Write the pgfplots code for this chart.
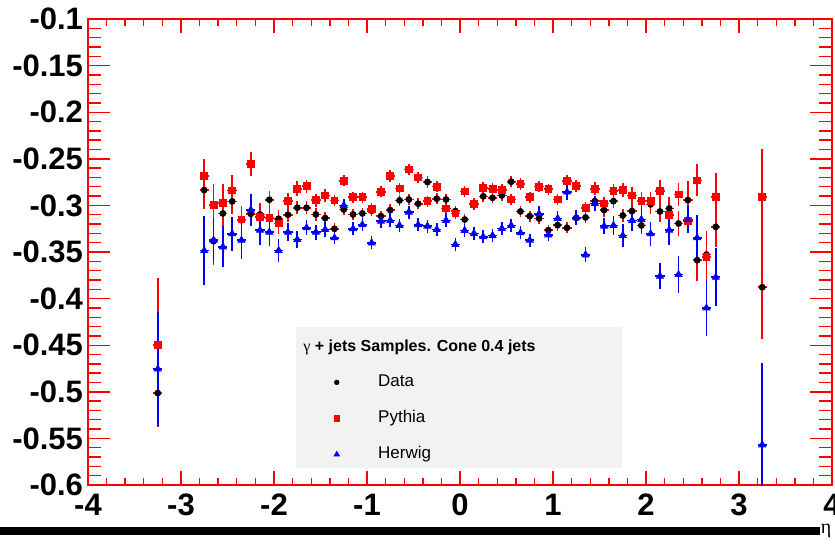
\documentclass[border=0pt]{standalone}
\usepackage{pgfplots}
\pgfplotsset{compat=1.18}
\usepackage{pgfplotstable}
\usepackage{fontspec}
\setmainfont{Liberation Sans}
\newfontfamily\symfont{Liberation Serif}
\definecolor{legbg}{HTML}{F2F2F2}

% eta, mean value, statistical error
\pgfplotstableread{
eta val err
-3.25 -0.5014 0.036
-2.75 -0.2835 0.020
-2.65 -0.3384 0.025
-2.55 -0.3086 0.020
-2.45 -0.2957 0.013
-2.35 -0.3158 0.014
-2.25 -0.3090 0.012
-2.15 -0.3097 0.012
-2.05 -0.2939 0.009
-1.95 -0.3143 0.009
-1.85 -0.3100 0.008
-1.75 -0.3025 0.007
-1.65 -0.3025 0.007
-1.55 -0.3097 0.007
-1.45 -0.3136 0.006
-1.35 -0.3251 0.006
-1.25 -0.3043 0.006
-1.15 -0.3097 0.006
-1.05 -0.3086 0.006
-0.95 -0.3057 0.006
-0.85 -0.3115 0.006
-0.75 -0.3050 0.006
-0.65 -0.2946 0.006
-0.55 -0.2936 0.006
-0.45 -0.2982 0.006
-0.35 -0.2749 0.006
-0.25 -0.2928 0.006
-0.15 -0.2936 0.006
-0.05 -0.3061 0.006
0.05 -0.3151 0.006
0.15 -0.2989 0.006
0.25 -0.2903 0.006
0.35 -0.2918 0.006
0.45 -0.2893 0.006
0.55 -0.2746 0.006
0.65 -0.3065 0.006
0.75 -0.3115 0.006
0.85 -0.3140 0.006
0.95 -0.3265 0.006
1.05 -0.3212 0.006
1.15 -0.3240 0.006
1.25 -0.3133 0.006
1.35 -0.3129 0.006
1.45 -0.2954 0.006
1.55 -0.3050 0.007
1.65 -0.2954 0.007
1.75 -0.3108 0.007
1.85 -0.3061 0.008
1.95 -0.3215 0.009
2.05 -0.2989 0.010
2.15 -0.3065 0.011
2.25 -0.3032 0.012
2.35 -0.3194 0.013
2.45 -0.2943 0.020
2.55 -0.3588 0.022
2.65 -0.3527 0.025
2.75 -0.3230 0.022
3.25 -0.3878 0.056
}\datatab

\pgfplotstableread{
eta val err
-3.25 -0.4498 0.072
-2.75 -0.2685 0.018
-2.65 -0.2997 0.023
-2.55 -0.2971 0.020
-2.45 -0.2839 0.017
-2.35 -0.3151 0.015
-2.25 -0.2556 0.013
-2.15 -0.3126 0.013
-2.05 -0.3136 0.012
-1.95 -0.3194 0.011
-1.85 -0.2954 0.009
-1.75 -0.2821 0.008
-1.65 -0.2792 0.007
-1.55 -0.2943 0.007
-1.45 -0.2893 0.007
-1.35 -0.2946 0.006
-1.25 -0.2735 0.006
-1.15 -0.2911 0.006
-1.05 -0.2911 0.006
-0.95 -0.3036 0.006
-0.85 -0.2853 0.006
-0.75 -0.2685 0.006
-0.65 -0.2817 0.006
-0.55 -0.2613 0.006
-0.45 -0.2699 0.006
-0.35 -0.2954 0.006
-0.25 -0.2799 0.006
-0.15 -0.3032 0.006
-0.05 -0.3086 0.006
0.05 -0.2850 0.006
0.15 -0.2982 0.006
0.25 -0.2810 0.006
0.35 -0.2821 0.006
0.45 -0.2835 0.006
0.55 -0.2936 0.006
0.65 -0.2771 0.006
0.75 -0.2911 0.006
0.85 -0.2799 0.006
0.95 -0.2825 0.006
1.05 -0.2936 0.006
1.15 -0.2738 0.006
1.25 -0.2792 0.006
1.35 -0.3025 0.006
1.45 -0.2821 0.007
1.55 -0.2979 0.007
1.65 -0.2846 0.008
1.75 -0.2835 0.008
1.85 -0.2893 0.009
1.95 -0.2954 0.010
2.05 -0.2954 0.010
2.15 -0.2846 0.012
2.25 -0.3104 0.012
2.35 -0.2882 0.012
2.45 -0.3169 0.013
2.55 -0.2731 0.017
2.65 -0.3552 0.025
2.75 -0.2907 0.025
3.25 -0.2910 0.052
}\pythiatab

\pgfplotstableread{
eta val err
-3.25 -0.4756 0.061
-2.75 -0.3484 0.037
-2.65 -0.3373 0.024
-2.55 -0.3445 0.022
-2.45 -0.3305 0.018
-2.35 -0.3373 0.020
-2.25 -0.3050 0.017
-2.15 -0.3265 0.016
-2.05 -0.3287 0.015
-1.95 -0.3484 0.012
-1.85 -0.3287 0.010
-1.75 -0.3366 0.009
-1.65 -0.3240 0.008
-1.55 -0.3287 0.008
-1.45 -0.3258 0.008
-1.35 -0.3348 0.007
-1.25 -0.3000 0.007
-1.15 -0.3251 0.007
-1.05 -0.3208 0.007
-0.95 -0.3402 0.007
-0.85 -0.3169 0.007
-0.75 -0.3161 0.007
-0.65 -0.3215 0.007
-0.55 -0.3072 0.007
-0.45 -0.3208 0.007
-0.35 -0.3222 0.007
-0.25 -0.3258 0.007
-0.15 -0.3161 0.007
-0.05 -0.3419 0.007
0.05 -0.3269 0.007
0.15 -0.3301 0.007
0.25 -0.3337 0.007
0.35 -0.3323 0.007
0.45 -0.3247 0.007
0.55 -0.3215 0.007
0.65 -0.3294 0.007
0.75 -0.3373 0.007
0.85 -0.3090 0.008
0.95 -0.3316 0.007
1.05 -0.3140 0.008
1.15 -0.2857 0.008
1.25 -0.3133 0.008
1.35 -0.3531 0.008
1.45 -0.2979 0.008
1.55 -0.3222 0.009
1.65 -0.3215 0.010
1.75 -0.3323 0.012
1.85 -0.3161 0.011
1.95 -0.3151 0.014
2.05 -0.3305 0.013
2.15 -0.3760 0.014
2.25 -0.3265 0.016
2.35 -0.3742 0.020
2.45 -0.3151 0.015
2.55 -0.3348 0.025
2.65 -0.4100 0.030
2.75 -0.3771 0.031
3.25 -0.5570 0.088
}\herwigtab

\pgfplotsset{
  framebox/.style={
    at={(0,0)}, anchor=south west,
    scale only axis, width=372pt, height=233pt,
    xmin=-4, xmax=4, ymin=-0.6, ymax=-0.1,
    axis line style={red, line width=1pt},
    tick align=inside, tick pos=both,
    tick style={red, line width=0.7pt},
    ticklabel style={font=\bfseries\fontsize{15.5}{15.5}\selectfont, text=black},
  },
}

\begin{document}
\begin{tikzpicture}[x=1pt,y=1pt]
\path[use as bounding box] (-44,-29) rectangle (373.5,242.5);
% y axis ticks (longer, scaled to the frame width)
\begin{axis}[framebox,
  major tick length=11pt, minor tick length=6.3pt,
  xtick=\empty,
  ytick={-0.6,-0.55,-0.5,-0.45,-0.4,-0.35,-0.3,-0.25,-0.2,-0.15,-0.1},
  yticklabels={-0.6,-0.55,-0.5,-0.45,-0.4,-0.35,-0.3,-0.25,-0.2,-0.15,-0.1},
  minor y tick num=4,
  yticklabel style={xshift=1pt},
]
\end{axis}
% x axis ticks and the measurements
\begin{axis}[framebox,
  major tick length=7pt, minor tick length=3.5pt,
  ytick=\empty,
  xtick={-4,-3,-2,-1,0,1,2,3,4},
  xticklabels={-4,-3,-2,-1,0,1,2,3,4},
  minor x tick num=4,
  xticklabel style={yshift=-1pt},
  legend image code/.code={\draw[#1, every mark/.append style={scale=0.75}]
    plot coordinates {(0pt,0pt)}; \path (-5pt,0pt) (5pt,0pt);},
  legend style={at={(axis cs:-1.441,-0.4809)}, anchor=north west,
    draw=none, fill=none, inner sep=0pt, row sep=10pt, column sep=15.5pt,
    font=\fontsize{8.5}{8.5}\selectfont,
    nodes={inner sep=0pt, text height=6pt, text depth=2pt}},
  legend cell align=left,
]
% legend panel and its heading
\fill[legbg] (axis cs:-1.763,-0.4305) rectangle (axis cs:1.742,-0.5818);
\node[anchor=west, inner sep=0pt, font=\bfseries\fontsize{8}{8}\selectfont]
  at (axis cs:-1.688,-0.4519) {{\symfont\mdseries γ} + jets Samples. Cone 0.4 jets};

\addplot[only marks, mark=*, mark size=1.5pt, black,
  error bars/.cd, y dir=both, y explicit, x dir=both, x fixed=0.05,
  error mark=none, error bar style={red, line width=0.8pt}]
  table[x=eta, y=val, y error=err] {\datatab};
\addlegendentry{Data}
\addplot[only marks, mark=square*, mark size=1.7pt, red,
  error bars/.cd, y dir=both, y explicit, x dir=both, x fixed=0.05,
  error mark=none, error bar style={red, line width=0.8pt}]
  table[x=eta, y=val, y error=err] {\pythiatab};
\addlegendentry{Pythia}
\addplot[only marks, mark=triangle*, mark size=2pt, blue,
  error bars/.cd, y dir=both, y explicit, x dir=both, x fixed=0.05,
  error mark=none, error bar style={blue, line width=0.8pt}]
  table[x=eta, y=val, y error=err] {\herwigtab};
\addlegendentry{Herwig}
\end{axis}
% bottom rule and axis symbol
\fill[black] (-44,-25) rectangle (366,-21);
\node[anchor=center, inner sep=0pt, font=\fontsize{10}{10}\selectfont] at (369,-23) {\symfont η};
\end{tikzpicture}
\end{document}
